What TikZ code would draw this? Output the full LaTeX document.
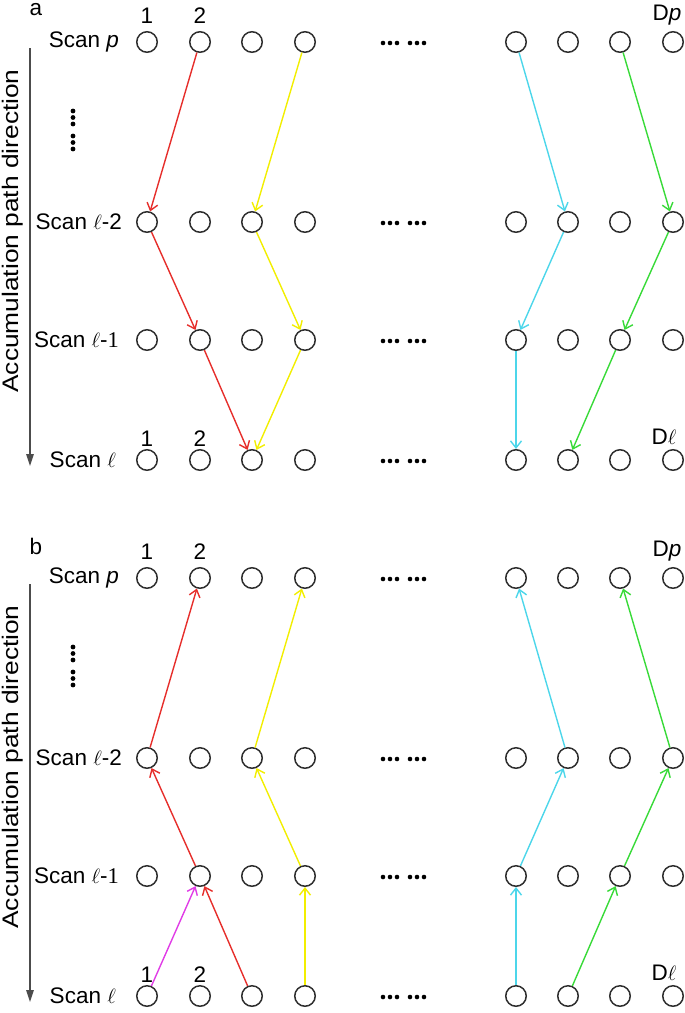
\documentclass[tikz,border=0pt]{standalone}
\usepackage{fontspec}
\setmainfont{Liberation Sans}
\newfontfamily\serifnum{Liberation Serif}
\usetikzlibrary{arrows.meta}
\definecolor{cred}{HTML}{E62E2B}
\definecolor{cyel}{HTML}{F2EE00}
\definecolor{ccya}{HTML}{4CD6EA}
\definecolor{cgrn}{HTML}{38DA38}
\definecolor{cmag}{HTML}{E03CE6}
\definecolor{cgray}{HTML}{2E2E2E}
\begin{document}
\begin{tikzpicture}[x=1pt,y=-1pt,
  dotn/.style={circle, draw=cgray, line width=1.5pt, minimum size=20.5pt, inner sep=0pt},
  lbl/.style={font=\fontsize{22.5}{26}\selectfont, inner sep=0pt},
  arr/.style={line width=1.4pt, -{Straight Barb[length=7pt,width=11pt]}},
  axis/.style={line width=1.4pt, draw=black!70, -{Triangle[length=12pt,width=7.5pt]}},
  pt/.style={fill=black}]
\useasboundingbox (0,0) rectangle (685,1013);
\foreach \pan/\off in {a/0, b/536}{
  \foreach \r/\y in {p/42, m2/222, m1/340, l/460}{
    \foreach \c/\x in {1/147,2/200,3/252,4/305,5/516,6/568,7/620,8/673}{
      \node[dotn] (\pan\c\r) at (\x,{\y+\off}) {};
    }
    \foreach \dx in {383,390,397,410,417,424}{
      \fill[pt] (\dx,{\y+\off+1}) circle (2.3pt);
    }
  }
  \foreach \dy in {111,117.5,124,136,142.5,149}{
    \fill[pt] (73,{\dy+\off}) circle (2.4pt);
  }
  \node[lbl, anchor=east] (\pan Lp) at (119,{42+\off}) {Scan \textit{p}};
  \node[lbl, anchor=east] (\pan Lm2) at (122,{222+\off}) {Scan $\ell$-2};
  \node[lbl, anchor=east] (\pan Lm1) at (119,{340+\off}) {Scan $\ell$-{\serifnum 1}};
  \node[lbl, anchor=east] (\pan Ll) at (116,{460+\off}) {Scan $\ell$};
  \node[lbl] (\pan N1) at (147,{16+\off}) {1};
  \node[lbl] (\pan N2) at (200,{16+\off}) {2};
  \node[lbl] (\pan M1) at (147,{439+\off}) {1};
  \node[lbl] (\pan M2) at (200,{439+\off}) {2};
  \node[lbl] (\pan Dp) at (667,{15+\off}) {D\textit{p}};
  \node[lbl] (\pan Dl) at (664,{437+\off}) {D$\ell$};
  \node[lbl] (\pan T) at (36,{10+\off}) {\pan};
  \coordinate (\pan A1) at (30,{48+\off});
  \coordinate (\pan A2) at (30,{466+\off});
  \draw[axis] (\pan A1) -- (\pan A2);
  \node[lbl, rotate=90] (\pan AL) at (13,{231+\off}) {\scalebox{1.17}[1]{Accumulation path direction}};
}
% panel a
\draw[arr, cred] (a2p) -- (a1m2);
\draw[arr, cred] (a1m2) -- (a2m1);
\draw[arr, cred] (a2m1) -- (a3l);
\draw[arr, cyel] (a4p) -- (a3m2);
\draw[arr, cyel] (a3m2) -- (a4m1);
\draw[arr, cyel] (a4m1) -- (a3l);
\draw[arr, ccya] (a5p) -- (a6m2);
\draw[arr, ccya] (a6m2) -- (a5m1);
\draw[arr, ccya] (a5m1) -- (a5l);
\draw[arr, cgrn] (a7p) -- (a8m2);
\draw[arr, cgrn] (a8m2) -- (a7m1);
\draw[arr, cgrn] (a7m1) -- (a6l);
% panel b
\draw[arr, cred] (b1m2) -- (b2p);
\draw[arr, cred] (b2m1) -- (b1m2);
\draw[arr, cred] (b3l) -- (b2m1);
\draw[arr, cmag] (b1l) -- (b2m1);
\draw[arr, cyel] (b3m2) -- (b4p);
\draw[arr, cyel] (b4m1) -- (b3m2);
\draw[arr, cyel] (b4l) -- (b4m1);
\draw[arr, ccya] (b6m2) -- (b5p);
\draw[arr, ccya] (b5m1) -- (b6m2);
\draw[arr, ccya] (b5l) -- (b5m1);
\draw[arr, cgrn] (b8m2) -- (b7p);
\draw[arr, cgrn] (b7m1) -- (b8m2);
\draw[arr, cgrn] (b6l) -- (b7m1);
\end{tikzpicture}
\end{document}
